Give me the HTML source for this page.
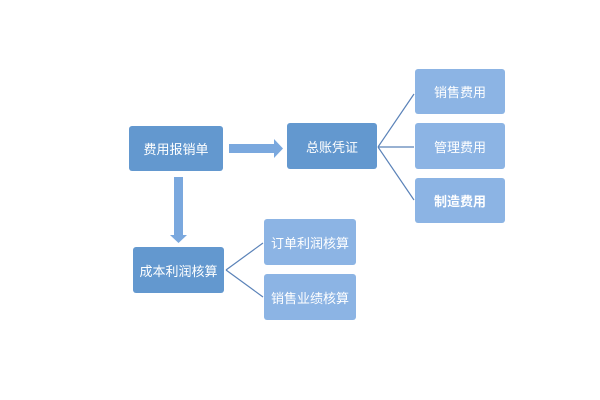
<!DOCTYPE html>
<html><head><meta charset="utf-8"><style>
body{margin:0;width:600px;height:400px;background:#fff;position:relative;overflow:hidden;font-family:"Liberation Sans","Noto Sans CJK SC",sans-serif}
.b{position:absolute;color:#fff;font-size:13px;display:flex;align-items:center;justify-content:center;border-radius:3px}
.d{background:#6398cf}
.l{background:#8cb4e4}
</style></head><body>
<svg width="600" height="400" style="position:absolute;left:0;top:0">
<g stroke="#5a82b8" stroke-width="1.2" fill="none">
<line x1="378" y1="147" x2="414" y2="94"/>
<line x1="378" y1="147" x2="414" y2="147"/>
<line x1="378" y1="147" x2="414" y2="200"/>
<line x1="226" y1="270" x2="263" y2="243"/>
<line x1="226" y1="270" x2="263" y2="297"/>
</g>
<polygon fill="#7aa8de" points="229,144 274,144 274,139 283,148.5 274,158 274,153 229,153"/>
<polygon fill="#7aa8de" points="174,177 183,177 183,235 187,235 178.5,243 170,235 174,235"/>
</svg>
<div class="b d" style="left:129px;top:126px;width:94px;height:45px">费用报销单</div>
<div class="b d" style="left:287px;top:123px;width:90px;height:46px">总账凭证</div>
<div class="b l" style="left:415px;top:69px;width:90px;height:45px">销售费用</div>
<div class="b l" style="left:415px;top:123px;width:90px;height:46px">管理费用</div>
<div class="b l" style="left:415px;top:178px;width:90px;height:45px;font-weight:bold">制造费用</div>
<div class="b d" style="left:133px;top:247px;width:91px;height:46px">成本利润核算</div>
<div class="b l" style="left:264px;top:219px;width:92px;height:46px">订单利润核算</div>
<div class="b l" style="left:264px;top:274px;width:92px;height:46px">销售业绩核算</div>
</body></html>
